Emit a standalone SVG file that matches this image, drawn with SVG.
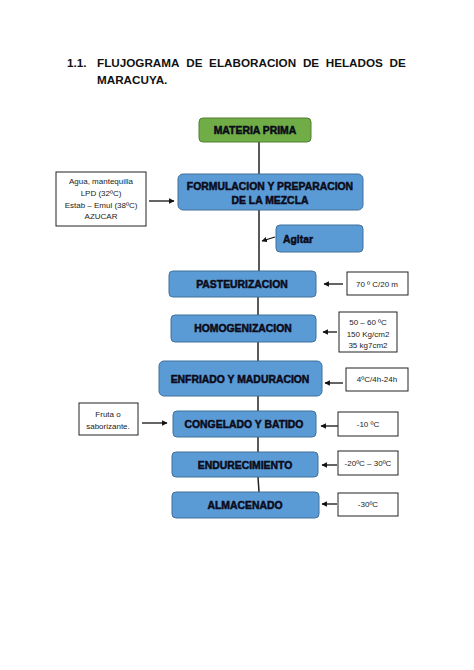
<svg xmlns="http://www.w3.org/2000/svg" width="474" height="670" viewBox="0 0 474 670">
<defs>
<marker id="ah" viewBox="0 0 10 10" refX="9" refY="5" markerWidth="5.5" markerHeight="5.5" orient="auto" markerUnits="userSpaceOnUse">
<path d="M0,0 L10,5 L0,10 z" fill="#111"/>
</marker>
<style>
.title{font-family:"Liberation Sans",Arial,sans-serif;font-weight:bold;font-size:11.7px;fill:#111}
.blue{fill:#5B9BD5;stroke:#41719C;stroke-width:1}
.green{fill:#70AD47;stroke:#507E32;stroke-width:1}
.note{fill:#fff;stroke:#222;stroke-width:1}
.bt{font-family:"Liberation Sans",Arial,sans-serif;font-weight:bold;font-size:10.4px;fill:#0b0b1a;stroke:#0b0b1a;stroke-width:0.5;text-anchor:middle;dominant-baseline:central}
.nt{font-family:"Liberation Sans",Arial,sans-serif;font-size:8px;fill:#222;text-anchor:middle;dominant-baseline:central}
.ln{stroke:#222;stroke-width:1.5;fill:none}
.ar{stroke:#111;stroke-width:1.3;fill:none;marker-end:url(#ah)}
</style>
</defs>
<rect width="474" height="670" fill="#fff"/>
<g id="title">
<text class="title" x="67" y="67">1.1.</text>
<text class="title" x="97" y="67">FLUJOGRAMA</text>
<text class="title" x="186.3" y="67">DE</text>
<text class="title" x="209.1" y="67">ELABORACION</text>
<text class="title" x="302.9" y="67">DE</text>
<text class="title" x="325.7" y="67">HELADOS</text>
<text class="title" x="389.6" y="67">DE</text>
<text class="title" x="97" y="84">MARACUYA.</text>
</g>
<g id="connectors">
<line class="ln" x1="259" y1="142" x2="259" y2="174"/>
<line class="ln" x1="259" y1="210" x2="259" y2="271"/>
<line class="ln" x1="258" y1="297" x2="258" y2="315"/>
<line class="ln" x1="258" y1="342" x2="258" y2="361"/>
<line class="ln" x1="258" y1="396" x2="258" y2="411"/>
<line class="ln" x1="258" y1="437" x2="258" y2="452"/>
<line class="ln" x1="258" y1="477" x2="259" y2="492"/>
<line class="ar" x1="149" y1="201" x2="174" y2="201"/>
<line class="ar" x1="275" y1="237" x2="262" y2="241"/>
<line class="ar" x1="343" y1="284" x2="324" y2="284"/>
<line class="ar" x1="337" y1="332" x2="323" y2="332"/>
<line class="ar" x1="343" y1="383" x2="325" y2="383"/>
<line class="ar" x1="142" y1="423" x2="167" y2="423"/>
<line class="ar" x1="341" y1="426" x2="321" y2="426"/>
<line class="ar" x1="337" y1="465" x2="322" y2="465"/>
<line class="ar" x1="337" y1="504" x2="322" y2="504"/>
</g>
<g id="materia-prima">
<rect class="green" x="199" y="118" width="112" height="24" rx="4"/>
<text class="bt" x="255" y="130">MATERIA PRIMA</text>
</g>
<g id="formulacion">
<rect class="blue" x="178" y="174" width="185" height="36" rx="5"/>
<text class="bt" x="270" y="186">FORMULACION Y PREPARACION</text>
<text class="bt" x="270" y="200">DE LA MEZCLA</text>
</g>
<g id="ingredientes">
<rect class="note" x="56" y="172" width="90" height="54"/>
<text class="nt" x="101" y="181">Agua, mantequilla</text>
<text class="nt" x="101" y="193">LPD (32ºC)</text>
<text class="nt" x="101" y="205">Estab – Emul (38ºC)</text>
<text class="nt" x="101" y="216">AZUCAR</text>
</g>
<g id="agitar">
<rect class="blue" x="276" y="225" width="87" height="27" rx="4"/>
<text class="bt" x="283" y="239" style="text-anchor:start">Agitar</text>
</g>
<g id="pasteurizacion">
<rect class="blue" x="169" y="271" width="147" height="26" rx="4"/>
<text class="bt" x="242" y="284">PASTEURIZACION</text>
</g>
<g id="pasteurizacion-nota">
<rect class="note" x="347" y="272" width="61" height="23"/>
<text class="nt" x="377" y="284">70 º C/20 m</text>
</g>
<g id="homogenizacion">
<rect class="blue" x="171" y="315" width="145" height="27" rx="4"/>
<text class="bt" x="243" y="328.5">HOMOGENIZACION</text>
</g>
<g id="homogenizacion-nota">
<rect class="note" x="339" y="312" width="58" height="40"/>
<text class="nt" x="368" y="322">50 – 60 ºC</text>
<text class="nt" x="368" y="334">150 Kg/cm2</text>
<text class="nt" x="368" y="345">35 kg7cm2</text>
</g>
<g id="enfriado">
<rect class="blue" x="159" y="361" width="163" height="35" rx="5"/>
<text class="bt" x="240" y="379">ENFRIADO Y MADURACION</text>
</g>
<g id="enfriado-nota">
<rect class="note" x="346" y="368" width="62" height="23"/>
<text class="nt" x="377" y="379.5">4ºC/4h-24h</text>
</g>
<g id="congelado">
<rect class="blue" x="173" y="411" width="143" height="26" rx="4"/>
<text class="bt" x="244" y="424">CONGELADO Y BATIDO</text>
</g>
<g id="fruta">
<rect class="note" x="79" y="403" width="59" height="32"/>
<text class="nt" x="108" y="414">Fruta o</text>
<text class="nt" x="108" y="426">saborizante.</text>
</g>
<g id="congelado-nota">
<rect class="note" x="338" y="412" width="60" height="24"/>
<text class="nt" x="368" y="424">-10 ºC</text>
</g>
<g id="endurecimiento">
<rect class="blue" x="172" y="452" width="146" height="25" rx="4"/>
<text class="bt" x="245" y="465">ENDURECIMIENTO</text>
</g>
<g id="endurecimiento-nota">
<rect class="note" x="338" y="451" width="60" height="24"/>
<text class="nt" x="368" y="463.5">-20ºC – 30ºC</text>
</g>
<g id="almacenado">
<rect class="blue" x="172" y="492" width="147" height="26" rx="4"/>
<text class="bt" x="245" y="505">ALMACENADO</text>
</g>
<g id="almacenado-nota">
<rect class="note" x="338" y="493" width="60" height="23"/>
<text class="nt" x="368" y="504.5">-30ºC</text>
</g>
</svg>
